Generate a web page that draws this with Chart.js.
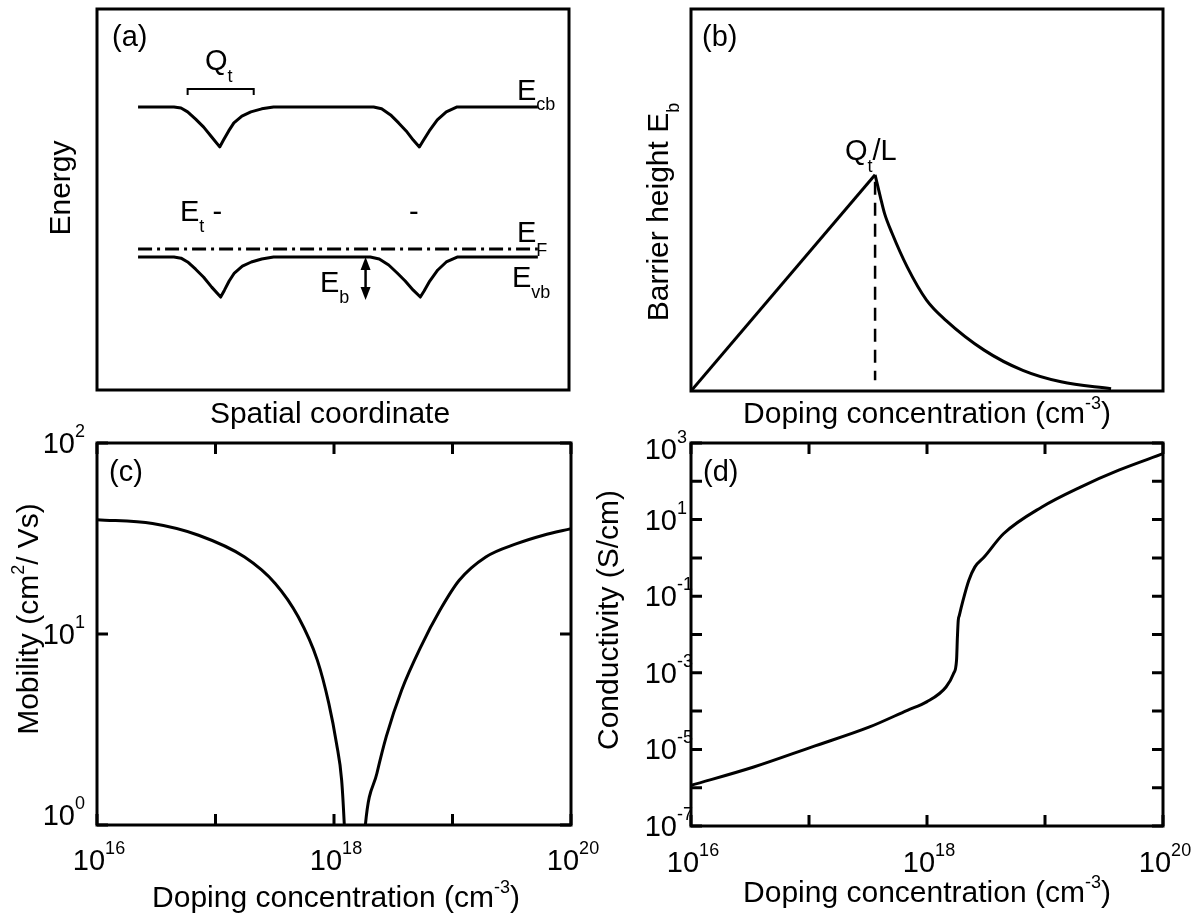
<!DOCTYPE html>
<html>
<head>
<meta charset="utf-8">
<title>Band diagram, barrier height, mobility and conductivity</title>
<script src="https://cdn.jsdelivr.net/npm/chart.js@4.4.0/dist/chart.umd.min.js"></script>
<style>
  body { margin: 0; background: #fff; }
  #page { position: relative; width: 1204px; height: 914px; }
  #page canvas { position: absolute; left: 0; top: 0; }
</style>
</head>
<body>
<div id="page">
  <canvas id="bandChart" width="1204" height="914"></canvas>
  <canvas id="barrierChart" width="1204" height="914"></canvas>
  <canvas id="mobilityChart" width="1204" height="914"></canvas>
  <canvas id="conductChart" width="1204" height="914"></canvas>
</div>
<script>
// (a) band diagram, arbitrary units 0..100 on both axes
const ecbPos = [8.7, 16.3, 17.8, 19.2, 20.9, 22.6, 24.3, 26.0, 26.8, 27.9, 29.0, 30.7, 32.6, 34.9, 37.4, 58.6, 60.3, 62.2, 63.9, 65.5, 67.0, 68.3, 69.1, 70.4, 72.1, 74.0, 76.3, 93.4];
const ecbEnergy = [74.3, 74.3, 74.0, 73.0, 71.1, 69.0, 66.4, 63.8, 65.6, 68.0, 70.1, 71.9, 73.0, 73.8, 74.3, 74.3, 73.8, 72.2, 70.1, 68.0, 65.6, 63.8, 65.4, 68.0, 70.9, 73.0, 74.3, 74.3];
const evbPos = [8.7, 16.3, 17.8, 19.2, 20.9, 22.6, 24.3, 26.2, 27.0, 28.0, 29.1, 30.8, 32.7, 34.9, 37.4, 57.9, 59.8, 61.8, 63.6, 65.3, 67.0, 68.5, 69.3, 70.5, 72.2, 74.0, 76.3, 93.4];
const evbEnergy = [34.9, 34.9, 34.6, 33.6, 31.7, 29.6, 27.0, 24.4, 26.2, 28.6, 30.7, 32.5, 33.6, 34.4, 34.9, 34.9, 34.4, 32.8, 30.7, 28.6, 26.2, 24.4, 26.0, 28.6, 31.5, 33.6, 34.9, 34.9];
const fermiPos = [8.7, 93.4];
const fermiEnergy = [37.0, 37.0];
const qtBracketPos = [19.2, 19.2, 33.2, 33.2];
const qtBracketEnergy = [77.4, 79.0, 79.0, 77.4];
const ebArrowPos = [56.9, 56.9];
const ebArrowEnergy = [34.9, 23.6];

// (b) barrier height vs doping, arbitrary units
const riseDoping = [0, 39.0];
const riseHeight = [0, 56.6];
const fallDoping = [39.0, 40.1, 41.0, 42.6, 45.8, 49.9, 54.0, 62.1, 70.3, 78.4, 89.0];
const fallHeight = [56.6, 50.9, 46.5, 41.3, 32.5, 23.8, 18.5, 10.7, 5.4, 2.4, 0.6];
const peakDoping = [39.0, 39.0];
const peakGuide = [54.8, 2.8];

// (c) mobility, two branches either side of the minimum
const mobDopingLow = [1.0e16, 2.94e16, 7.2e16, 1.76e17, 3.19e17, 4.99e17, 7.23e17, 9.04e17, 1.05e18, 1.16e18, 1.22e18, 1.24e18];
const mobilityLow = [39.7, 37.9, 32.9, 25.3, 18.4, 12.3, 7.3, 4.33, 2.67, 1.72, 1.02, 0.8];
const mobDopingHigh = [1.80e18, 1.84e18, 2.30e18, 2.76e18, 3.72e18, 5.40e18, 7.83e18, 1.14e19, 1.91e19, 3.48e19, 5.85e19, 1.0e20];
const mobilityHigh = [0.8, 1.0, 1.86, 2.90, 5.08, 8.57, 13.3, 19.1, 25.3, 29.7, 32.9, 35.6];

// (d) conductivity
const condDoping = [1.0e16, 3.40e16, 1.05e17, 3.22e17, 6.82e17, 9.93e17, 1.45e18, 1.68e18, 1.78e18, 1.81e18, 1.84e18, 1.88e18, 2.02e18, 2.26e18, 2.54e18, 3.05e18, 4.45e18, 9.42e18, 2.0e19, 4.22e19, 1.0e20];
const conductivity = [1.15e-6, 3.47e-6, 1.15e-5, 3.80e-5, 1.05e-4, 1.74e-4, 4.27e-4, 9.55e-4, 2.14e-3, 8.51e-3, 2.34e-2, 3.16e-2, 7.76e-2, 0.257, 0.575, 1.05, 4.27, 21.4, 70.8, 195, 525];

// tick values
const dopingDecades = [1e16, 1e17, 1e18, 1e19, 1e20];
const dopingLabelExp = [16, 18, 20];
const mobDecades = [1, 10, 100];
const mobLabelExp = [0, 1, 2];
const condDecades = [1e-7, 1e-6, 1e-5, 1e-4, 1e-3, 1e-2, 1e-1, 1, 10, 100, 1000];
const condLabelExp = [-7, -5, -3, -1, 1, 3];

const PAGE_W = 1204, PAGE_H = 914;
const FONT = "'Liberation Sans', Arial, sans-serif";
const TITLE = 30, TICK = 29, SUB = 18;

function pts(xs, ys) {
  return xs.map((x, i) => ({ x: x, y: ys[i] }));
}

function richText(ctx, parts, x, y, align) {
  let total = 0;
  parts.forEach(p => {
    ctx.font = p[1] + "px " + FONT;
    p.w = ctx.measureText(p[0]).width;
    total += p.w;
  });
  let cx = x;
  if (align === "center") cx = x - total / 2;
  if (align === "right") cx = x - total;
  ctx.textAlign = "left";
  ctx.textBaseline = "alphabetic";
  parts.forEach(p => {
    ctx.font = p[1] + "px " + FONT;
    ctx.fillText(p[0], cx, y + (p[2] || 0));
    cx += p.w;
  });
}

function rotatedText(ctx, parts, x, y) {
  ctx.save();
  ctx.translate(x, y);
  ctx.rotate(-Math.PI / 2);
  richText(ctx, parts, 0, 0, "center");
  ctx.restore();
}

function powerParts(exp) {
  return [["10", TICK], [String(exp), SUB, -16]];
}

function drawFrame(chart) {
  const a = chart.chartArea, ctx = chart.ctx;
  ctx.save();
  ctx.strokeStyle = "#000";
  ctx.lineWidth = 3;
  ctx.strokeRect(a.left, a.top, a.right - a.left, a.bottom - a.top);
  ctx.restore();
}

function drawTicks(chart, xVals, yVals) {
  const a = chart.chartArea, ctx = chart.ctx;
  const len = 11;
  ctx.save();
  ctx.strokeStyle = "#000";
  ctx.lineWidth = 3;
  ctx.beginPath();
  xVals.forEach(v => {
    const px = chart.scales.x.getPixelForValue(v);
    ctx.moveTo(px, a.bottom); ctx.lineTo(px, a.bottom - len);
    ctx.moveTo(px, a.top); ctx.lineTo(px, a.top + len);
  });
  yVals.forEach(v => {
    const py = chart.scales.y.getPixelForValue(v);
    ctx.moveTo(a.left, py); ctx.lineTo(a.left + len, py);
    ctx.moveTo(a.right, py); ctx.lineTo(a.right - len, py);
  });
  ctx.stroke();
  ctx.restore();
}

function drawDopingLabels(chart, baseline) {
  const ctx = chart.ctx;
  ctx.fillStyle = "#000";
  dopingLabelExp.forEach(e => {
    const px = chart.scales.x.getPixelForValue(Math.pow(10, e));
    richText(ctx, powerParts(e), px + 2, baseline, "center");
  });
}

function drawPowerLabelsY(chart, exps, digitsRight, shift) {
  const ctx = chart.ctx;
  ctx.fillStyle = "#000";
  exps.forEach(e => {
    const py = chart.scales.y.getPixelForValue(Math.pow(10, e)) + 10 + (shift[e] || 0);
    richText(ctx, [["10", TICK]], digitsRight, py, "right");
    richText(ctx, [[String(e), SUB]], digitsRight, py - 16, "left");
  });
}

function baseOptions(frame, xScale, yScale) {
  return {
    responsive: false,
    animation: false,
    devicePixelRatio: 1,
    layout: { padding: { left: frame[0], top: frame[1], right: PAGE_W - frame[2], bottom: PAGE_H - frame[3] } },
    plugins: { legend: { display: false }, tooltip: { enabled: false } },
    scales: {
      x: Object.assign({ display: false }, xScale),
      y: Object.assign({ display: false }, yScale)
    },
    elements: {
      point: { radius: 0, hoverRadius: 0 },
      line: { borderColor: "#000", borderWidth: 3, tension: 0, fill: false }
    }
  };
}

function lineSet(xs, ys, extra) {
  return Object.assign({ data: pts(xs, ys), showLine: true, borderColor: "#000", borderWidth: 3, pointRadius: 0 }, extra || {});
}

const SMOOTH = { cubicInterpolationMode: "monotone" };

// ---- (a) energy bands ----
new Chart(document.getElementById("bandChart"), {
  type: "scatter",
  data: {
    datasets: [
      lineSet(ecbPos, ecbEnergy, { borderJoinStyle: "round" }),
      lineSet(evbPos, evbEnergy, { borderJoinStyle: "round" }),
      lineSet(fermiPos, fermiEnergy, { borderDash: [14, 5, 3, 5] }),
      lineSet(qtBracketPos, qtBracketEnergy, { borderWidth: 2 })
    ]
  },
  options: baseOptions([97, 9, 569, 390], { type: "linear", min: 0, max: 100 }, { type: "linear", min: 0, max: 100 }),
  plugins: [{
    id: "bandDecor",
    afterDraw(chart) {
      const ctx = chart.ctx, xs = chart.scales.x, ys = chart.scales.y;
      drawFrame(chart);

      // E_b double arrow
      const ax = xs.getPixelForValue(ebArrowPos[0]);
      const yTop = ys.getPixelForValue(ebArrowEnergy[0]);
      const yBot = ys.getPixelForValue(ebArrowEnergy[1]);
      ctx.save();
      ctx.strokeStyle = "#000"; ctx.fillStyle = "#000"; ctx.lineWidth = 2.5;
      ctx.beginPath(); ctx.moveTo(ax, yTop + 8); ctx.lineTo(ax, yBot - 8); ctx.stroke();
      ctx.beginPath(); ctx.moveTo(ax, yTop); ctx.lineTo(ax - 5, yTop + 13); ctx.lineTo(ax + 5, yTop + 13); ctx.closePath(); ctx.fill();
      ctx.beginPath(); ctx.moveTo(ax, yBot); ctx.lineTo(ax - 5, yBot - 13); ctx.lineTo(ax + 5, yBot - 13); ctx.closePath(); ctx.fill();
      ctx.restore();

      ctx.fillStyle = "#000";
      richText(ctx, [["(a)", 29]], 112, 46, "left");
      richText(ctx, [["Q", 29], ["t", SUB, 12]], 205, 70, "left");
      richText(ctx, [["E", 29], ["t", SUB, 11], [" -", 29]], 180, 221, "left");
      richText(ctx, [["-", 29]], 409, 221, "left");
      richText(ctx, [["E", 29], ["cb", SUB, 10]], 517, 100, "left");
      richText(ctx, [["E", 29], ["F", SUB, 14]], 517, 242, "left");
      richText(ctx, [["E", 29], ["vb", SUB, 11]], 512, 287, "left");
      richText(ctx, [["E", 29], ["b", SUB, 11]], 320, 292, "left");

      rotatedText(ctx, [["Energy", TITLE]], 70, 188);
      richText(ctx, [["Spatial coordinate", TITLE]], 330, 423, "center");
    }
  }]
});

// ---- (b) barrier height ----
new Chart(document.getElementById("barrierChart"), {
  type: "scatter",
  data: {
    datasets: [
      lineSet(riseDoping, riseHeight),
      lineSet(fallDoping, fallHeight, SMOOTH),
      lineSet(peakDoping, peakGuide, { borderWidth: 2.5, borderDash: [13, 8] })
    ]
  },
  options: baseOptions([691, 9, 1163, 391], { type: "linear", min: 0, max: 100 }, { type: "linear", min: 0, max: 100 }),
  plugins: [{
    id: "barrierDecor",
    afterDraw(chart) {
      const ctx = chart.ctx;
      drawFrame(chart);
      ctx.fillStyle = "#000";
      richText(ctx, [["(b)", 29]], 702, 46, "left");
      richText(ctx, [["Q", 29], ["t", SUB, 12], ["/L", 29]], 845, 160, "left");
      rotatedText(ctx, [["Barrier height E", TITLE], ["b", SUB, 11]], 668, 212);
      richText(ctx, [["Doping concentration (cm", TITLE], ["-3", SUB, -14], [")", TITLE]], 927, 423, "center");
    }
  }]
});

// ---- (c) mobility ----
new Chart(document.getElementById("mobilityChart"), {
  type: "scatter",
  data: {
    datasets: [
      lineSet(mobDopingLow, mobilityLow, SMOOTH),
      lineSet(mobDopingHigh, mobilityHigh, SMOOTH)
    ]
  },
  options: baseOptions([97, 443, 571, 825], { type: "logarithmic", min: 1e16, max: 1e20 }, { type: "logarithmic", min: 1, max: 100 }),
  plugins: [{
    id: "mobilityDecor",
    afterDraw(chart) {
      const ctx = chart.ctx;
      drawFrame(chart);
      drawTicks(chart, dopingDecades, mobDecades);
      drawDopingLabels(chart, 870);
      drawPowerLabelsY(chart, mobLabelExp, 75, { 0: -10 });
      ctx.fillStyle = "#000";
      richText(ctx, [["(c)", 29]], 109, 481, "left");
      rotatedText(ctx, [["Mobility (cm", TITLE], ["2", SUB, -14], ["/ Vs)", TITLE]], 38, 619);
      richText(ctx, [["Doping concentration (cm", TITLE], ["-3", SUB, -14], [")", TITLE]], 336, 907, "center");
    }
  }]
});

// ---- (d) conductivity ----
new Chart(document.getElementById("conductChart"), {
  type: "scatter",
  data: {
    datasets: [lineSet(condDoping, conductivity, SMOOTH)]
  },
  options: baseOptions([691, 443, 1163, 826], { type: "logarithmic", min: 1e16, max: 1e20 }, { type: "logarithmic", min: 1e-7, max: 1e3 }),
  plugins: [{
    id: "conductDecor",
    afterDraw(chart) {
      const ctx = chart.ctx;
      drawFrame(chart);
      drawTicks(chart, dopingDecades, condDecades);
      drawDopingLabels(chart, 872);
      drawPowerLabelsY(chart, condLabelExp, 677, { 3: 6 });
      ctx.fillStyle = "#000";
      richText(ctx, [["(d)", 29]], 703, 481, "left");
      rotatedText(ctx, [["Conductivity (S/cm)", TITLE]], 618, 620);
      richText(ctx, [["Doping concentration (cm", TITLE], ["-3", SUB, -14], [")", TITLE]], 927, 902, "center");
    }
  }]
});
</script>
</body>
</html>
